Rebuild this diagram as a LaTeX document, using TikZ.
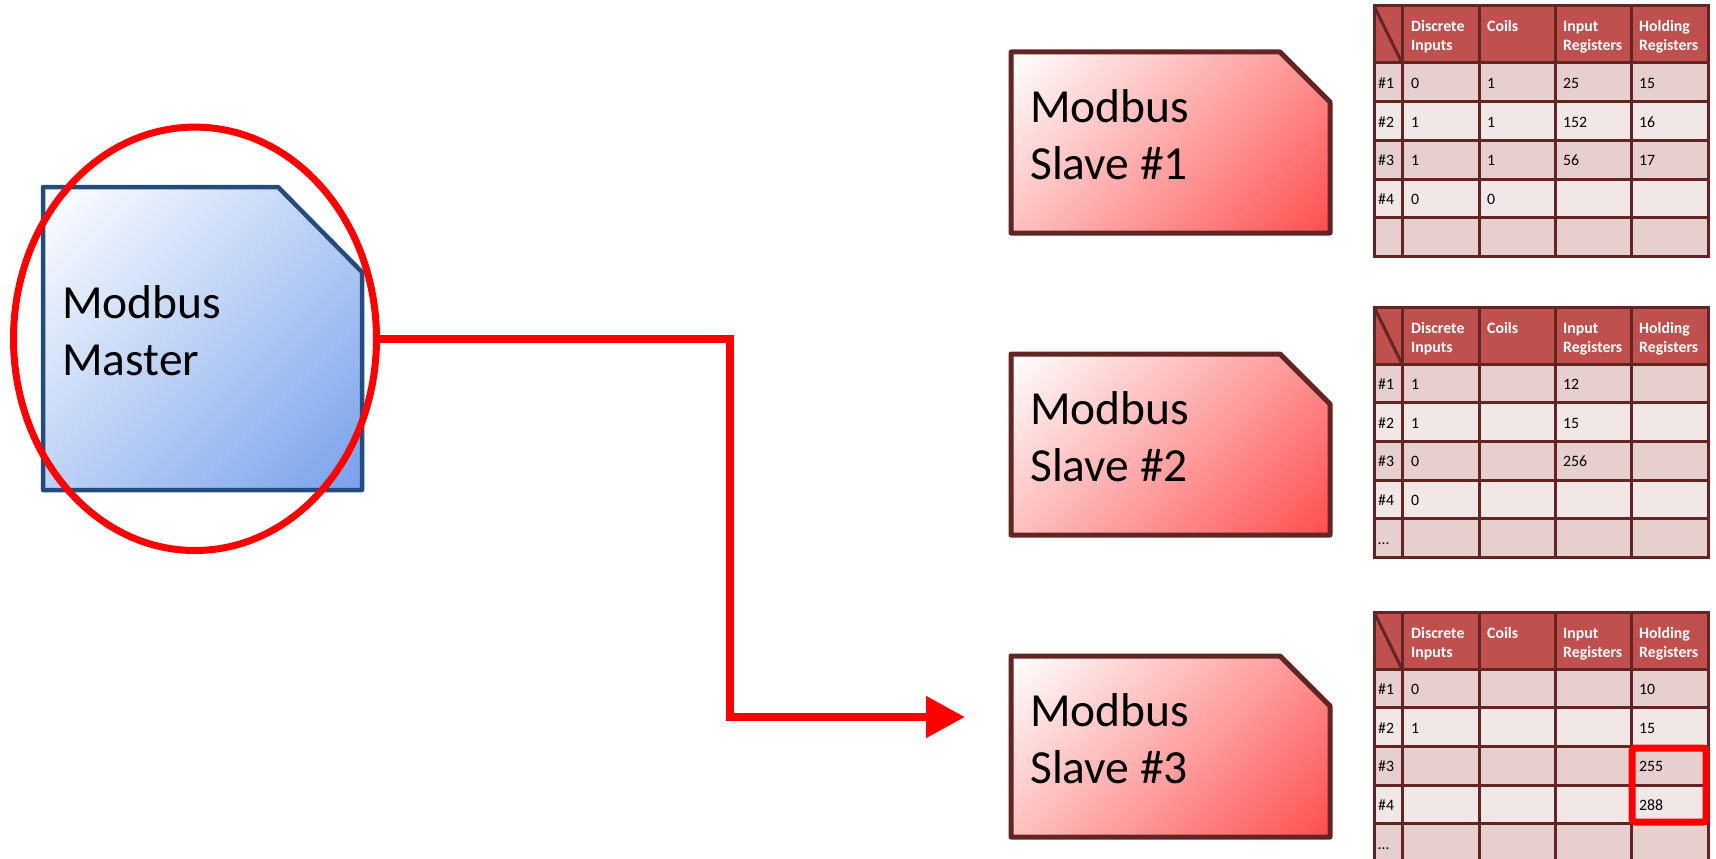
\documentclass[tikz,border=0pt]{standalone}
\usepackage{fontspec}
\setmainfont{Carlito}
\usetikzlibrary{arrows.meta,shapes.geometric}

\definecolor{slaveedge}{HTML}{632523}
\definecolor{slavefill}{HTML}{FF4F4F}
\definecolor{masteredge}{HTML}{254A7C}
\definecolor{masterfill}{HTML}{78A2EC}
\definecolor{headfill}{HTML}{C0504D}
\definecolor{banddark}{HTML}{E7CFCE}
\definecolor{bandlight}{HTML}{F2E7E7}
\definecolor{gridline}{HTML}{632523}
\definecolor{alert}{HTML}{FF0000}

% corner-to-corner fades (turned by 45 degrees when used)
\pgfdeclareverticalshading{slavefade}{100bp}{color(0bp)=(slavefill); color(15bp)=(slavefill); color(85bp)=(white); color(100bp)=(white)}
\pgfdeclareverticalshading{masterfade}{100bp}{color(0bp)=(masterfill); color(15bp)=(masterfill); color(85bp)=(white); color(100bp)=(white)}

% two left-aligned lines whose baseline is the first line
\newcommand{\twolines}[2]{\begin{tabular}[t]{@{}l@{}}#1\\#2\end{tabular}}

\tikzset{
  bigtext/.style={font=\fontsize{47.5}{57}\selectfont, inner sep=0pt, anchor=base west},
  headtext/.style={font=\fontsize{15.8}{19}\selectfont\bfseries, text=white, inner sep=0pt, anchor=base west},
  celltext/.style={font=\fontsize{15.8}{19}\selectfont, inner sep=0pt, anchor=base west},
  slavebox/.style={draw=slaveedge, line width=5pt, line join=round,
    shading=slavefade, shading angle=45},
  masterbox/.style={draw=masteredge, line width=4.5pt, line join=round,
    shading=masterfade, shading angle=45},
  gridpen/.style={draw=gridline, line width=3pt},
  redpen/.style={draw=alert, line width=7pt},
}

\begin{document}
\begin{tikzpicture}[x=1pt, y=-1pt]
\useasboundingbox (0,0) rectangle (1716,859);

% ---- master device ----
\shade[masterbox] (43,187) -- (278,187) -- (362,272) -- (362,490) -- (43,490) -- cycle;
\node[bigtext] (master) at (62,318) {\twolines{Modbus}{Master}};
\node[ellipse, redpen, minimum width=363pt, minimum height=423.4pt, inner sep=0pt] (ring) at (195,338.8) {};

% ---- slave devices ----
\foreach \s/\T in {1/52, 2/354, 3/656} {
  \shade[slavebox] (1011,\T) -- (1280,\T) -- (1330,\T+50) -- (1330,\T+181) -- (1011,\T+181) -- cycle;
  \node[bigtext] (slave\s) at (1030,\T+70) {\twolines{Modbus}{Slave \#\s}};
}

% ---- request from the master to slave 3 ----
\coordinate (tip) at (965,717);
\draw[alert, line width=8pt, -{Triangle[length=39pt,width=40pt]}] (ring.east) -- ++(350,0) |- (tip);

% ---- register tables ----
\foreach \tab/\T in {1/6, 2/307, 3/612} {
  \fill[headfill] (1374,\T) rectangle (1708,\T+57);
  \foreach \r/\c in {0/banddark, 1/bandlight, 2/banddark, 3/bandlight, 4/banddark}
    \fill[\c] (1374,\T+57+\r*38.7) rectangle (1708,\T+57+\r*38.7+38.7);
  \foreach \x in {1402,1479,1555,1631}
    \draw[gridpen] (\x,\T) -- (\x,\T+250.5);
  \foreach \y in {57,95.7,134.4,173.1,211.8}
    \draw[gridpen] (1374,\T+\y) -- (1708,\T+\y);
  \draw[gridpen, line join=miter] (1374,\T) rectangle (1708,\T+250.5);
  \draw[gridpen] (1374,\T) -- (1402,\T+57);
  \node[headtext] (t\tab-h1) at (1411,\T+26) {\twolines{Discrete}{Inputs}};
  \node[headtext] (t\tab-h2) at (1487,\T+26) {Coils};
  \node[headtext] (t\tab-h3) at (1563,\T+26) {\twolines{Input}{Registers}};
  \node[headtext] (t\tab-h4) at (1639,\T+26) {\twolines{Holding}{Registers}};
}

% table contents: row / label / discrete / coils / input / holding
\foreach \r/\l/\a/\b/\c/\d in {0/\#1/0/1/25/15, 1/\#2/1/1/152/16, 2/\#3/1/1/56/17, 3/\#4/0/0//, 4/////} {
  \path (1378,6+82.5+\r*38.7) node[celltext] (t1-\r-0) {\l}
        (1411,6+82.5+\r*38.7) node[celltext] (t1-\r-1) {\a}
        (1487,6+82.5+\r*38.7) node[celltext] (t1-\r-2) {\b}
        (1563,6+82.5+\r*38.7) node[celltext] (t1-\r-3) {\c}
        (1639,6+82.5+\r*38.7) node[celltext] (t1-\r-4) {\d};
}
\foreach \r/\l/\a/\b/\c/\d in {0/\#1/1//12/, 1/\#2/1//15/, 2/\#3/0//256/, 3/\#4/0///, 4/…////} {
  \path (1378,307+82.5+\r*38.7) node[celltext] (t2-\r-0) {\l}
        (1411,307+82.5+\r*38.7) node[celltext] (t2-\r-1) {\a}
        (1487,307+82.5+\r*38.7) node[celltext] (t2-\r-2) {\b}
        (1563,307+82.5+\r*38.7) node[celltext] (t2-\r-3) {\c}
        (1639,307+82.5+\r*38.7) node[celltext] (t2-\r-4) {\d};
}
\foreach \r/\l/\a/\b/\c/\d in {0/\#1/0///10, 1/\#2/1///15, 2/\#3////255, 3/\#4////288, 4/…////} {
  \path (1378,612+82.5+\r*38.7) node[celltext] (t3-\r-0) {\l}
        (1411,612+82.5+\r*38.7) node[celltext] (t3-\r-1) {\a}
        (1487,612+82.5+\r*38.7) node[celltext] (t3-\r-2) {\b}
        (1563,612+82.5+\r*38.7) node[celltext] (t3-\r-3) {\c}
        (1639,612+82.5+\r*38.7) node[celltext] (t3-\r-4) {\d};
}

% highlighted holding registers of slave 3
\draw[redpen, rounded corners=3pt] (1632,748) rectangle (1706,822);
\end{tikzpicture}
\end{document}
